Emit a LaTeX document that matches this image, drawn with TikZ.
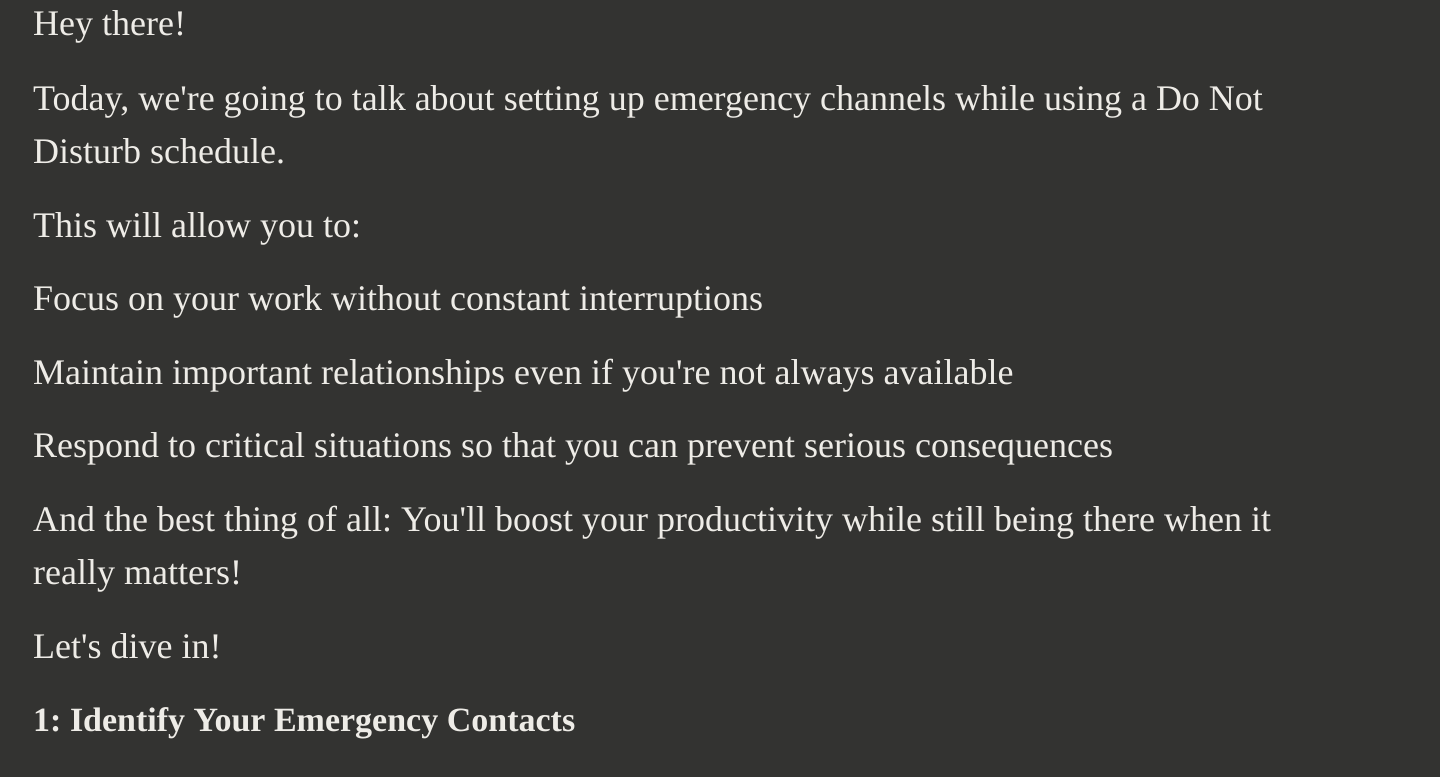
\documentclass[tikz,border=0pt]{standalone}
\usepackage{fontspec}
\setmainfont{Liberation Serif}
\definecolor{bg}{HTML}{333331}
\definecolor{ink}{HTML}{EEECE7}
\newcommand{\apos}{\textquotesingle}
\tikzset{line/.style={anchor=base west, inner sep=0pt, text=ink, font=\fontsize{36}{42}\selectfont\frenchspacing}}
\begin{document}
\begin{tikzpicture}[x=1pt, y=-1pt]
        \def\lm{33}
        \fill [bg] (0,0) rectangle (1440,777) ;
        \useasboundingbox (0,0) rectangle (1440,777) ;

        \node [line] (hey) at (\lm,35) {Hey there!} ;
        \node [line] (today) at (\lm,110) {Today, we\apos re going to talk about setting up emergency channels while using a Do Not} ;
        \node [line] (disturb) at (\lm,163) {Disturb schedule.} ;
        \node [line] (allow) at (\lm,237) {This will allow you to:} ;
        \node [line] (focus) at (\lm,310) {Focus on your work without constant interruptions} ;
        \node [line] (maintain) at (\lm,384) {Maintain important relationships even if you\apos re not always available} ;
        \node [line] (respond) at (\lm,457) {Respond to critical situations so that you can prevent serious consequences} ;
        \node [line] (best) at (\lm,531) {And the best thing of all: You\apos ll boost your productivity while still being there when it} ;
        \node [line] (matters) at (\lm,584) {really matters!} ;
        \node [line] (dive) at (\lm,658) {Let\apos s dive in!} ;
        \node [line, font=\fontsize{34}{40}\selectfont\bfseries\frenchspacing] (step) at (\lm,731) {1: Identify Your Emergency Contacts} ;
      \end{tikzpicture}
\end{document}
